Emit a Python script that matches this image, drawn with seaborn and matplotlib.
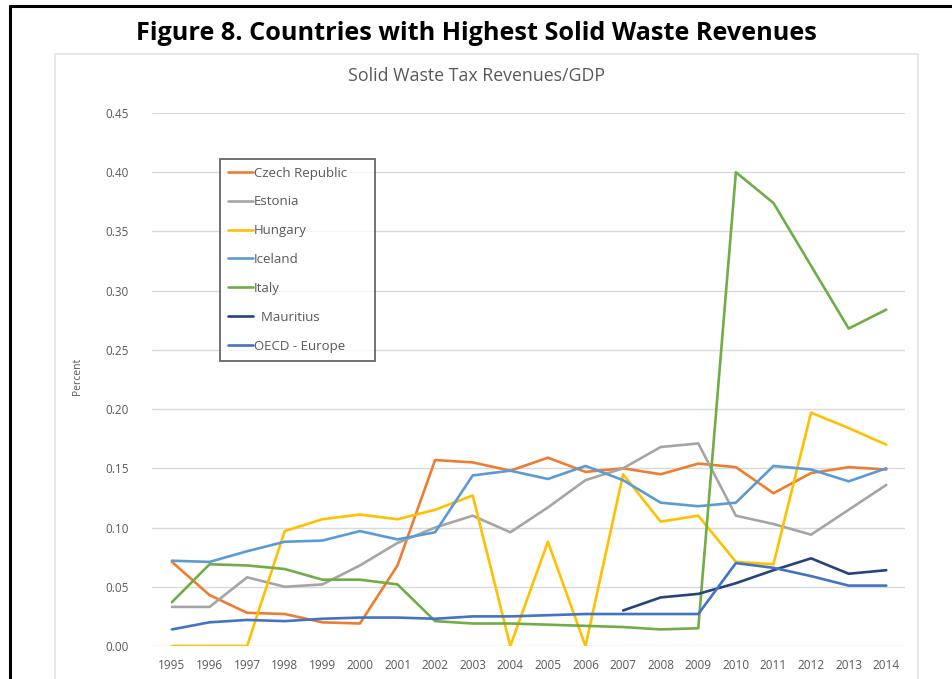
import numpy as np
import pandas as pd
import matplotlib
matplotlib.use("Agg")
import matplotlib.pyplot as plt
import seaborn as sns

# data (percent of GDP)
years = list(range(1995, 2015))
czech = [0.071, 0.043, 0.028, 0.027, 0.020, 0.019, 0.068, 0.157, 0.155, 0.148,
         0.159, 0.147, 0.150, 0.145, 0.154, 0.151, 0.129, 0.146, 0.151, 0.149]
estonia = [0.033, 0.033, 0.058, 0.050, 0.052, 0.068, 0.087, 0.100, 0.110, 0.096,
           0.117, 0.140, 0.150, 0.168, 0.171, 0.110, 0.103, 0.094, 0.115, 0.136]
hungary = [0.0, 0.0, 0.0, 0.097, 0.107, 0.111, 0.107, 0.115, 0.127, 0.0,
           0.088, 0.0, 0.145, 0.105, 0.110, 0.071, 0.069, 0.197, 0.184, 0.170]
iceland = [0.072, 0.071, 0.080, 0.088, 0.089, 0.097, 0.090, 0.096, 0.144, 0.148,
           0.141, 0.152, 0.140, 0.121, 0.118, 0.121, 0.152, 0.149, 0.139, 0.150]
italy = [0.037, 0.069, 0.068, 0.065, 0.056, 0.056, 0.052, 0.021, 0.019, 0.019,
         0.018, 0.017, 0.016, 0.014, 0.015, 0.400, 0.374, 0.321, 0.268, 0.284]
mauritius = [np.nan] * 12 + [0.030, 0.041, 0.044, 0.053, 0.064, 0.074, 0.061, 0.064]
oecd = [0.014, 0.020, 0.022, 0.021, 0.023, 0.024, 0.024, 0.023, 0.025, 0.025,
        0.026, 0.027, 0.027, 0.027, 0.027, 0.070, 0.066, 0.059, 0.051, 0.051]

countries = ["Czech Republic", "Estonia", "Hungary", "Iceland", "Italy",
             "Mauritius", "OECD - Europe"]
series = [czech, estonia, hungary, iceland, italy, mauritius, oecd]
colors = ["#ED7D31", "#A5A5A5", "#FFC000", "#5B9BD5", "#70AD47", "#264478", "#4472C4"]

df = pd.DataFrame({
    "year": years * len(countries),
    "value": sum(series, []),
    "country": sum([[c] * len(years) for c in countries], []),
})

sns.set_style("white")
plt.rcParams["font.family"] = ["Open Sans", "DejaVu Sans"]

fig = plt.figure(figsize=(9.53, 6.79), dpi=100)
ax = fig.add_axes([0.1595, 0.0486, 0.7902, 0.785])

sns.lineplot(data=df, x="year", y="value", hue="country", hue_order=countries,
             palette=dict(zip(countries, colors)), linewidth=1.9, ax=ax,
             legend=True)

ax.set_xlim(1994.47, 2014.5)
ax.set_ylim(0, 0.45)
ax.set_xticks(years)
ax.set_xticklabels([str(y) for y in years])
ax.set_yticks(np.arange(0, 0.451, 0.05))
ax.set_yticklabels([f"{v:.2f}" for v in np.arange(0, 0.451, 0.05)])
ax.tick_params(axis="both", colors="#595959", labelsize=8.5, length=0)
ax.tick_params(axis="y", pad=17)
ax.tick_params(axis="x", pad=9)
ax.yaxis.grid(True, color="#D9D9D9", linewidth=1)
ax.set_axisbelow(True)
for s in ax.spines.values():
    s.set_visible(False)
ax.set_xlabel("")
ax.set_ylabel("Percent", color="#595959", fontsize=7.5)
ax.yaxis.set_label_coords(-0.092, 0.505)

# legend
handles, labels = ax.get_legend_handles_labels()
ax.get_legend().remove()
labels = ["  Mauritius" if l == "Mauritius" else l for l in labels]
leg = fig.legend(handles, labels, loc="upper left",
                 bbox_to_anchor=(0.2235, 0.676, 0.177, 0.1), mode="expand",
                 fontsize=9.5, labelspacing=1.2, handlelength=1.9,
                 handletextpad=0.1, borderpad=0.6, fancybox=False,
                 frameon=True, labelcolor="#595959")
leg.get_frame().set_edgecolor("#404040")
leg.get_frame().set_linewidth(1.3)

# chart area border
fig.add_artist(plt.Rectangle((55 / 953, -0.05), (918 - 55) / 953, (679 - 54) / 679 + 0.05,
                             transform=fig.transFigure, fill=False,
                             edgecolor="#E3E3E3", linewidth=1.2))

# outer black frame (top and left)
fig.add_artist(plt.Line2D([10 / 953, 1.0], [1 - 6 / 679, 1 - 6 / 679],
                          transform=fig.transFigure, color="black", linewidth=2.2))
fig.add_artist(plt.Line2D([10 / 953, 10 / 953], [0, 1 - 6 / 679],
                          transform=fig.transFigure, color="black", linewidth=2.2))

fig.text(0.5, 1 - 33 / 679, "Figure 8. Countries with Highest Solid Waste Revenues",
         ha="center", va="center", fontsize=18.2, fontweight="bold", color="black")
fig.text(0.5, 1 - 76 / 679, "Solid Waste Tax Revenues/GDP",
         ha="center", va="center", fontsize=12.8, color="#595959")

fig.savefig("out.png", dpi=100)
